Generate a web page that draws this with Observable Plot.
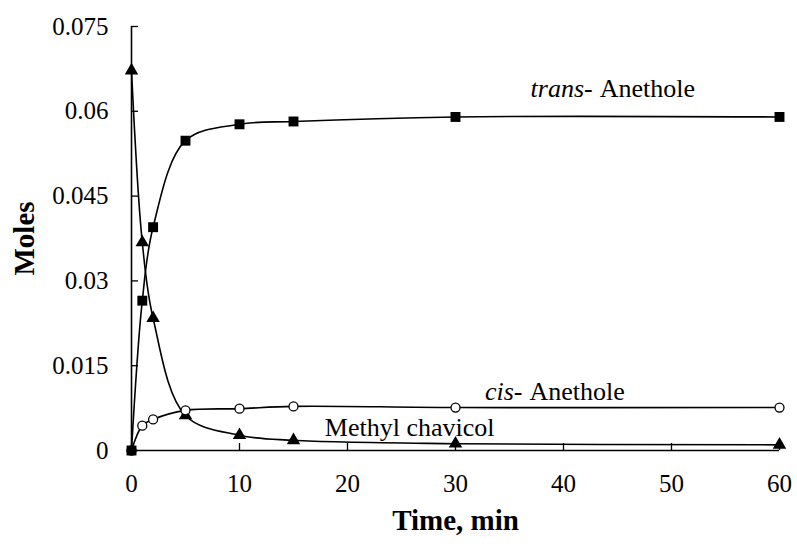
<!DOCTYPE html>
<html><head><meta charset="utf-8">
<script src="https://cdn.jsdelivr.net/npm/d3@7"></script>
<script src="https://cdn.jsdelivr.net/npm/@observablehq/plot@0.6"></script>
<style>body{margin:0;background:#fff}</style>
</head><body><div id="chart"></div>
<script>
const times = [0, 1, 2, 5, 10, 15, 30, 60];
const transAnethole = [0, 0.0265, 0.0395, 0.0548, 0.0577, 0.0582, 0.0590, 0.0590];
const cisAnethole = [0, 0.0044, 0.0055, 0.0071, 0.0074, 0.0078, 0.0076, 0.0076];
const methylChavicol = [0.0672, 0.0368, 0.0234, 0.0062, 0.0027, 0.0018, 0.0012, 0.0010];
const xTicks = [0, 10, 20, 30, 40, 50, 60];
const yTicks = [0, 0.015, 0.03, 0.045, 0.06, 0.075];
const yTickLabels = ["0", "0.015", "0.03", "0.045", "0.06", "0.075"];
const xTitle = "Time, min";
const yTitle = "Moles";
// series annotations: italic prefix, roman name, anchor time, anchor moles (baseline)
const labelPrefix = ["trans-", "cis-", ""];
const labelName = ["Anethole", "Anethole", "Methyl chavicol"];
const labelTime = [42.7, 36.2, 17.9];
const labelMoles = [0.0625, 0.0090, 0.00265];

const rows = times.flatMap((t, i) => [
  {t, v: transAnethole[i], s: "trans"},
  {t, v: cisAnethole[i], s: "cis"},
  {t, v: methylChavicol[i], s: "methyl"}
]);
const labels = labelName.map((n, i) => ({pre: labelPrefix[i], name: n, t: labelTime[i], v: labelMoles[i]}));
const font = "'Liberation Serif', 'Times New Roman', serif";

const chart = Plot.plot({
  width: 797, height: 553,
  marginLeft: 131, marginRight: 18, marginTop: 26, marginBottom: 103,
  style: {fontFamily: font, fontSize: "25px", color: "#000", background: "#fff"},
  x: {domain: [0, 60]},
  y: {domain: [0, 0.075]},
  marks: [
    Plot.ruleX([0], {stroke: "#000", strokeWidth: 1.6}),
    Plot.ruleY([0], {stroke: "#000", strokeWidth: 1.6}),
    Plot.axisX(xTicks, {tickSize: -7, tickPadding: 31, fontSize: 25, tickFormat: d => String(d), label: null, strokeWidth: 1.3}),
    Plot.axisY(yTicks, {tickSize: -7, tickPadding: 30, fontSize: 25, tickFormat: (d, i) => yTickLabels[i], label: null, strokeWidth: 1.3}),
    Plot.line(rows, {x: "t", y: "v", z: "s", curve: "catmull-rom", stroke: "#000", strokeWidth: 1.6}),
    Plot.dot(rows.filter(d => d.s === "methyl"), {x: "t", y: "v", symbol: "triangle", r: 5, fill: "#000"}),
    Plot.dot(rows.filter(d => d.s === "cis"), {x: "t", y: "v", symbol: "circle", r: 4.5, fill: "#fff", stroke: "#000", strokeWidth: 1.3}),
    Plot.dot(rows.filter(d => d.s === "trans"), {x: "t", y: "v", symbol: "square", r: 5.6, fill: "#000"}),
    Plot.text(labels.filter(d => d.pre), {x: "t", y: "v", text: "pre", textAnchor: "end", lineAnchor: "bottom", fontStyle: "italic", fontSize: 26}),
    Plot.text(labels.filter(d => d.pre), {x: "t", y: "v", text: "name", textAnchor: "start", lineAnchor: "bottom", dx: 7, fontSize: 26}),
    Plot.text(labels.filter(d => !d.pre), {x: "t", y: "v", text: "name", textAnchor: "start", lineAnchor: "bottom", fontSize: 26}),
    Plot.text([yTitle], {frameAnchor: "left", textAnchor: "middle", lineAnchor: "middle", rotate: -90, dx: -107, fontWeight: "bold", fontSize: 29}),
    Plot.text([xTitle], {frameAnchor: "bottom", textAnchor: "middle", lineAnchor: "middle", dy: 70, fontWeight: "bold", fontSize: 29})
  ]
});
document.getElementById("chart").appendChild(chart);
</script>
</body></html>
